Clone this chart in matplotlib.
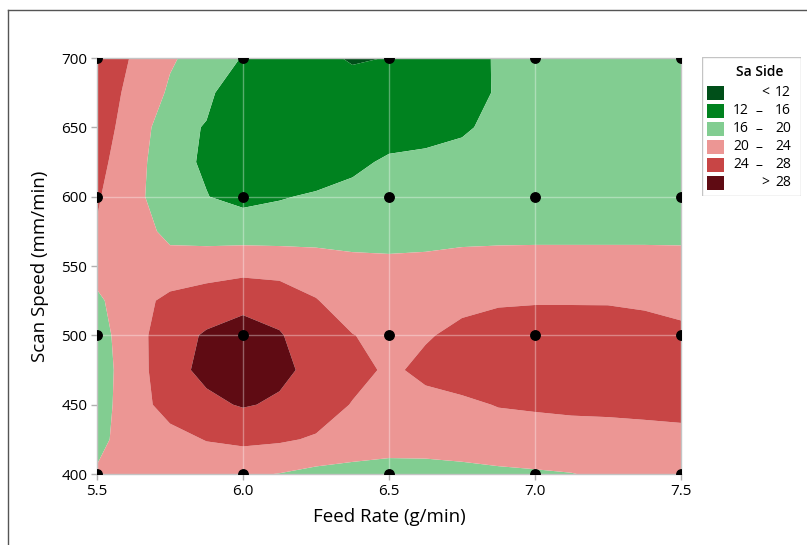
import numpy as np
import matplotlib
matplotlib.use("Agg")
import matplotlib.pyplot as plt
from matplotlib.patches import Rectangle
from matplotlib.lines import Line2D

plt.rcParams['font.family'] = ['Open Sans', 'DejaVu Sans']

# ---- data ----
feed_rate = [5.5, 5.625, 5.75, 5.875, 6.0, 6.125, 6.25, 6.375, 6.5,
             6.625, 6.75, 6.875, 7.0, 7.125, 7.25, 7.375, 7.5]
scan_speed = [400, 425, 450, 475, 500, 525, 550, 575, 600, 625, 650, 675, 700]

sa_side = [
    [20.3, 21.0, 21.0, 20.8, 20.5, 19.9, 19.0, 18.5, 18.3, 18.4, 18.8, 19.3, 19.6, 19.9, 20.6, 21.5, 22.2],
    [19.2, 21.5, 22.5, 24.2, 24.9, 24.5, 23.6, 22.8, 22.0, 22.0, 22.2, 22.4, 22.5, 22.7, 22.75, 23.1, 23.46],
    [18.5, 22.0, 25.8, 27.2, 28.3, 27.5, 26.0, 23.8, 22.8, 23.0, 23.4, 24.15, 24.4, 24.6, 24.7, 24.7, 24.6],
    [18.3, 22.0, 26.8, 28.9, 29.6, 28.8, 27.0, 25.3, 23.4, 24.8, 25.6, 26.0, 26.1, 26.1, 26.0, 25.8, 25.5],
    [18.5, 22.3, 26.5, 28.4, 29.4, 28.3, 25.8, 24.1, 23.0, 23.7, 24.8, 25.2, 25.4, 25.4, 25.3, 25.0, 24.6],
    [19.3, 22.6, 24.9, 26.0, 27.0, 26.3, 24.2, 22.0, 22.0, 22.8, 23.2, 23.7, 23.8, 23.8, 23.8, 23.6, 23.2],
    [21.5, 21.3, 21.5, 22.0, 22.5, 22.3, 21.8, 21.0, 20.8, 20.9, 21.2, 21.3, 21.4, 21.4, 21.4, 21.4, 21.3],
    [23.8, 21.8, 19.0, 18.5, 18.3, 18.3, 18.4, 18.5, 18.5, 18.7, 19.0, 19.1, 19.1, 19.1, 19.1, 19.1, 19.1],
    [24.3, 21.6, 16.6, 16.1, 14.9, 15.7, 16.5, 17.5, 17.7, 18.0, 18.2, 18.4, 18.5, 18.6, 18.7, 18.7, 18.7],
    [25.0, 21.8, 17.0, 15.6, 13.5, 13.2, 13.4, 14.8, 16.8, 17.3, 17.7, 18.0, 18.2, 18.4, 18.5, 18.6, 18.6],
    [24.9, 23.1, 16.8, 15.85, 13.8, 13.2, 13.0, 13.1, 13.4, 14.0, 15.3, 17.4, 17.9, 18.2, 18.4, 18.5, 18.6],
    [25.2, 23.4, 19.4, 16.6, 14.1, 13.3, 12.9, 12.8, 13.0, 13.6, 14.8, 16.3, 17.3, 17.9, 18.2, 18.4, 18.5],
    [25.5, 23.8, 20.5, 18.2, 15.8, 13.5, 12.5, 11.8, 12.05, 13.0, 14.5, 16.4, 17.5, 18.0, 18.3, 18.5, 18.6],
]

design_feed = [5.5, 6.0, 6.5, 7.0, 7.5]
design_speed = [400, 500, 600, 700]

level_bounds = [0, 12, 16, 20, 24, 28, 100]
level_labels = [("", "<", "12"), ("12", "\u2013", "16"), ("16", "\u2013", "20"),
                ("20", "\u2013", "24"), ("24", "\u2013", "28"), ("", ">", "28")]
level_colors = ['#004f19', '#00821f', '#82cd91', '#ec9694', '#c84545', '#5f0b13']

x_ticks = [5.5, 6.0, 6.5, 7.0, 7.5]
y_ticks = [400, 450, 500, 550, 600, 650, 700]

# ---- figure ----
W, H = 807, 545
fig = plt.figure(figsize=(W / 100, H / 100), dpi=100)
ax = fig.add_axes([97 / W, 1 - 474 / H, (681 - 97) / W, (474 - 58) / H])

X, Y = np.meshgrid(feed_rate, scan_speed)
Z = np.array(sa_side)
ax.contourf(X, Y, Z, levels=level_bounds, colors=level_colors, antialiased=True)

# grid lines at the design levels
for xv in design_feed[1:-1]:
    ax.axvline(xv, color='white', alpha=0.35, lw=1, zorder=2)
for yv in design_speed[1:-1]:
    ax.axhline(yv, color='white', alpha=0.35, lw=1, zorder=2)

DX, DY = np.meshgrid(design_feed, design_speed)
ax.plot(DX.ravel(), DY.ravel(), 'o', color='black', markersize=6.8, zorder=4, clip_on=True)

ax.set_xlim(5.5, 7.5)
ax.set_ylim(400, 700)
ax.set_xticks(x_ticks)
ax.set_xticklabels([f"{v:.1f}" for v in x_ticks])
ax.set_yticks(y_ticks)
ax.set_yticklabels([str(v) for v in y_ticks])
ax.tick_params(direction='out', length=4, width=1, color='#b0b0b0', labelsize=11, pad=3)
for s in ax.spines.values():
    s.set_color('#c4c4c4')
    s.set_linewidth(1)

ax.set_xlabel("Feed Rate (g/min)", fontsize=13.5, labelpad=7)
ax.set_ylabel("Scan Speed (mm/min)", fontsize=13.5, labelpad=9)

# ---- legend drawn in pixel coordinates ----
lx0, ly0, lx1, ly1 = 701.5, 56.5, 801, 196
lax = fig.add_axes([lx0 / W, 1 - ly1 / H, (lx1 - lx0) / W, (ly1 - ly0) / H])
lax.set_xlim(lx0, lx1)
lax.set_ylim(ly1, ly0)
lax.axis('off')
lax.add_patch(Rectangle((lx0 + 0.5, ly0 + 0.5), lx1 - lx0 - 1, ly1 - ly0 - 1,
                        fill=False, edgecolor='#c4c4c4', lw=1))
lax.text(760, 71.5, "Sa Side", ha='center', va='center', fontsize=10, fontweight='semibold')
for i, (c, (a, d, b)) in enumerate(zip(level_colors, level_labels)):
    cy = 93 + 18 * i
    lax.add_patch(Rectangle((706.5, cy - 7), 17.5, 14, color=c, lw=0))
    if a:
        lax.text(749, cy, a, ha='right', va='center', fontsize=10)
    lax.text(759 if a else 765, cy, d, ha='center', va='center', fontsize=10)
    lax.text(791, cy, b, ha='right', va='center', fontsize=10)

# partial outer frame (top and left)
fig.add_artist(Line2D([8 / W, 8 / W], [0, 1 - 10 / H], transform=fig.transFigure, color='#555555', lw=1))
fig.add_artist(Line2D([8 / W, 1], [1 - 10 / H, 1 - 10 / H], transform=fig.transFigure, color='#555555', lw=1))

fig.savefig("out.png", dpi=100)
